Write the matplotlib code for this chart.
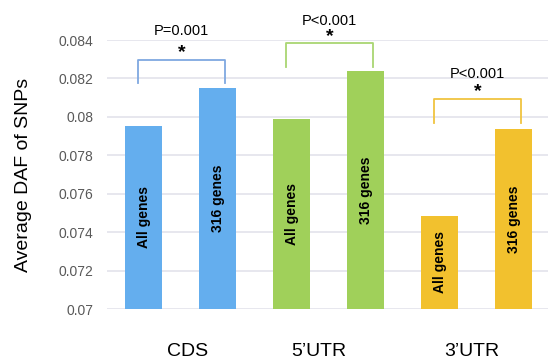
import matplotlib
matplotlib.use("Agg")
import matplotlib.pyplot as plt

plt.rcParams['font.family'] = ['Liberation Sans', 'DejaVu Sans']

regions = ["CDS", "5\u2019UTR", "3\u2019UTR"]
bar_labels = ["All genes", "316 genes"] * 3
values = [0.07953, 0.08151, 0.07990, 0.08238, 0.07485, 0.07937]
pvalues = ["P=0.001", "P<0.001", "P<0.001"]
yticks = [0.07, 0.072, 0.074, 0.076, 0.078, 0.08, 0.082, 0.084]
ytick_labels = ["0.07", "0.072", "0.074", "0.076", "0.078", "0.08", "0.082", "0.084"]

bar_colors = ["#64AEEE", "#64AEEE", "#A0D05A", "#A0D05A", "#F2C12E", "#F2C12E"]
bracket_colors = ["#7FA8E0", "#A9D672", "#F0C440"]

fig = plt.figure(figsize=(5.48, 3.6), dpi=100)
ax = fig.add_axes([107/548, 1 - 309/360, 441/548, (309 - 40)/360])

x = list(range(len(values)))
ax.bar(x, [v - 0.07 for v in values], bottom=0.07, width=0.5,
       color=bar_colors, zorder=3)
for xi, v, lab in zip(x, values, bar_labels):
    ax.text(xi, (0.07 + v) / 2, lab, rotation=90, ha='center', va='center',
            fontsize=10, fontweight='bold', color='black', zorder=4)

ax.set_xlim(-0.493, 5.46)
ax.set_ylim(0.07, 0.084)
ax.set_yticks(yticks)
ax.set_yticklabels(ytick_labels, fontsize=10, color='#595959')
ax.tick_params(axis='y', length=0, pad=10)
ax.set_xticks([])
ax.grid(axis='y', color='#E3E3EB', linewidth=1.2, zorder=0)
for s in ax.spines.values():
    s.set_visible(False)
ax.set_ylabel("Average DAF of SNPs", fontsize=14, labelpad=19)

# region labels
label_x = [0.60, 2.36, 4.43]
for lx, r in zip(label_x, regions):
    ax.text(lx, 0.07 - 0.00222, r, ha='center', va='center', fontsize=14)

# significance brackets
br_top = [0.08296, 0.08384, 0.08093]
br_bot = [0.08176, 0.08260, 0.07969]
star_y = [0.08334, 0.08420, 0.08130]
p_y = [0.08448, 0.08500, 0.08222]
for i in range(3):
    l, r = 2 * i - 0.075, 2 * i + 1.10
    ax.plot([l, l, r, r], [br_bot[i], br_top[i], br_top[i], br_bot[i]],
            color=bracket_colors[i], linewidth=1.3, clip_on=False, zorder=5)
    cx = (l + r) / 2
    ax.text(cx, star_y[i], "*", ha='center', va='center', fontsize=14,
            fontweight='bold', zorder=6)
    ax.text(cx, p_y[i], pvalues[i], ha='center', va='center', fontsize=10.5,
            zorder=6)

fig.savefig("out.png", dpi=100)
